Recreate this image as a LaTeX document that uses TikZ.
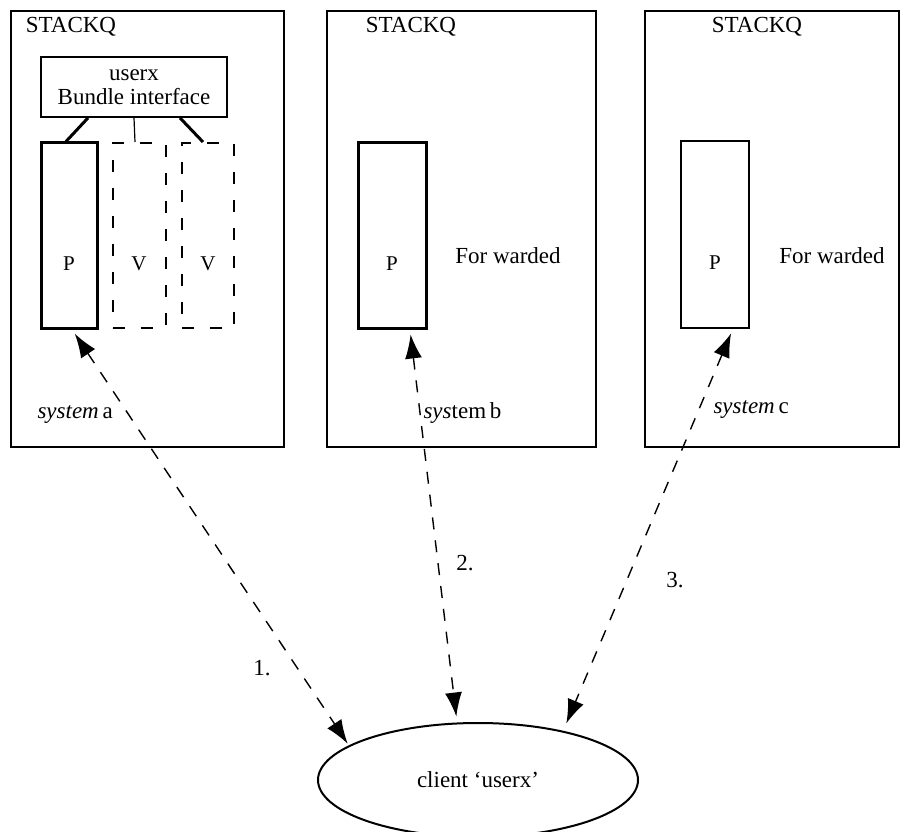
\documentclass[tikz,border=0pt]{standalone}
\usepackage{fontspec}
\setmainfont{Liberation Serif}
\usepackage{tikz}
\usetikzlibrary{shapes, arrows}
\usetikzlibrary{arrows.meta}
\usetikzlibrary{positioning}

\begin{document}
\begin{tikzpicture}[
    x=1pt, y=-1pt,
    font=\fontsize{23}{24}\selectfont,
    stackbox/.style={
        rectangle,
        draw,
        line width=2.4pt,
        minimum height=436pt,
        inner sep=0pt
    },
    procbox/.style={
        rectangle,
        draw,
        line width=3pt,
        minimum width=56pt,
        minimum height=185pt,
        inner sep=0pt,
        label={[yshift=-28pt, font=\fontsize{21}{23}\selectfont]center:#1}
    },
    virtbox/.style={
        procbox=#1,
        line width=2pt,
        dash pattern=on 12pt off 16pt,
        minimum width=53pt
    },
    bundlebox/.style={
        rectangle,
        draw,
        line width=1.8pt,
        minimum width=186pt,
        minimum height=60pt,
        align=center,
        inner sep=0pt
    },
    link/.style={
        <->,
        >={Latex[length=24pt,width=17pt]},
        line width=1.4pt,
        dash pattern=on 12pt off 11pt
    }
]
    \useasboundingbox (0,0) rectangle (906,832);

    % Drei Systeme
    \node (stackA) [stackbox, minimum width=273pt] at (147.5,229) {};
    \node (stackB) [stackbox, minimum width=269pt] at (461.5,229) {};
    \node (stackC) [stackbox, minimum width=254pt] at (772,229) {};
    \node (titleA) at (71,27) {STACKQ};
    \node (titleB) at (411,27) {STACKQ};
    \node (titleC) at (757,27) {STACKQ};

    % system a
    \node (bundle) [bundlebox] at (134,87) {userx\\Bundle interface};
    \node (pA) [procbox=P] at (69,235.5) {};
    \node (vA) [virtbox=V] at (139,235.5) {};
    \node (vB) [virtbox=V, minimum width=52pt] at (208,235.5) {};
    \draw [line width=3pt] ([xshift=-46pt]bundle.south) -- ([xshift=-3pt]pA.north);
    \draw [line width=1.2pt] (bundle.south) -- ([xshift=-4pt]vA.north);
    \draw [line width=3pt] ([xshift=46pt]bundle.south) -- ([xshift=-5pt]vB.north);
    \node (sysA) [anchor=west] at (34,415) {\textit{system}\,a};

    % system b
    \node (pB) [procbox=P, minimum width=68pt] at (392,235.5) {};
    \node (fwdB) at (508,256) {For warded};
    \node (sysB) [anchor=west] at (420,413) {\textit{sys}tem\,b};

    % system c
    \node (pC) [procbox=P, minimum width=68pt, minimum height=187pt, line width=1.4pt] at (715,234.5) {};
    \node (fwdC) at (832,256) {For warded};
    \node (sysC) [anchor=west] at (710,410) {\textit{system}\,c};

    % Client
    \node (client) [ellipse, draw, line width=2pt, minimum width=320pt,
        minimum height=114pt, inner sep=0pt] at (478,780) {client `userx'};

    % Verbindungen
    \draw [link, shorten <=5pt, shorten >=2pt] ([xshift=3pt]pA.south) -- (client.165);
    \draw [link, shorten <=5pt, shorten >=6pt] ([xshift=18pt]pB.south) -- (client.110);
    \draw [link, shorten <=5pt, shorten >=8pt] ([xshift=18pt]pC.south) -- (client.30);
    \node (n1) at (262,668) {1.};
    \node (n2) at (465,563) {2.};
    \node (n3) at (675,580) {3.};
\end{tikzpicture}
\end{document}
